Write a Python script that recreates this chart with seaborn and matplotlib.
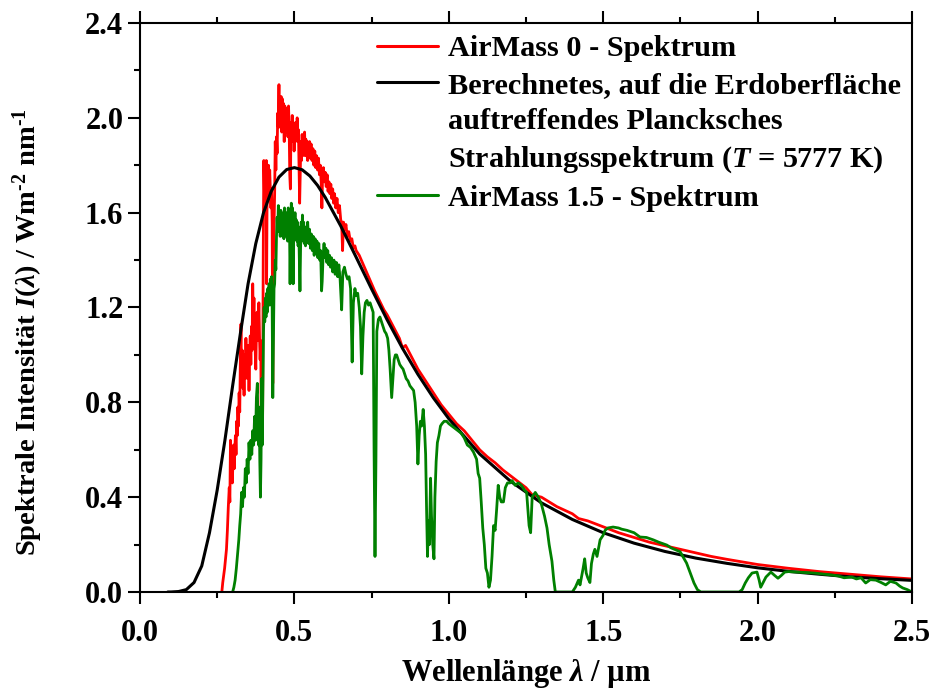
import numpy as np
import pandas as pd
import matplotlib
matplotlib.use('Agg')
import matplotlib.pyplot as plt
from matplotlib.lines import Line2D
from matplotlib.ticker import MultipleLocator, FormatStrFormatter
import seaborn as sns

# AirMass 0 (red)
am0_wl = [0.265, 0.268, 0.271, 0.274, 0.277, 0.280, 0.283, 0.286, 0.289, 0.291, 0.293, 0.295, 0.297,
          0.299, 0.301, 0.303, 0.305, 0.307, 0.309, 0.311, 0.313, 0.315, 0.317, 0.319, 0.321, 0.323,
          0.325, 0.327, 0.329, 0.331, 0.333, 0.335, 0.337, 0.339, 0.341, 0.343, 0.345, 0.347, 0.349,
          0.351, 0.353, 0.355, 0.357, 0.359, 0.361, 0.363, 0.365, 0.367, 0.369, 0.371, 0.373, 0.375,
          0.377, 0.379, 0.381, 0.383, 0.385, 0.387, 0.389, 0.391, 0.393, 0.395, 0.397, 0.399, 0.401,
          0.403, 0.405, 0.407, 0.409, 0.410, 0.412, 0.414, 0.416, 0.418, 0.420, 0.422, 0.424, 0.426,
          0.428, 0.430, 0.432, 0.434, 0.436, 0.438, 0.440, 0.442, 0.444, 0.446, 0.448, 0.450, 0.451,
          0.453, 0.455, 0.457, 0.459, 0.461, 0.463, 0.465, 0.467, 0.469, 0.471, 0.473, 0.475, 0.477,
          0.479, 0.481, 0.483, 0.485, 0.487, 0.489, 0.491, 0.493, 0.495, 0.497, 0.499, 0.501, 0.503,
          0.505, 0.507, 0.509, 0.511, 0.513, 0.515, 0.517, 0.519, 0.521, 0.523, 0.525, 0.527, 0.529,
          0.531, 0.533, 0.535, 0.537, 0.539, 0.541, 0.543, 0.545, 0.547, 0.549, 0.551, 0.554, 0.557,
          0.560, 0.563, 0.566, 0.569, 0.572, 0.575, 0.578, 0.581, 0.584, 0.587, 0.589, 0.591, 0.594,
          0.597, 0.600, 0.603, 0.606, 0.609, 0.612, 0.615, 0.618, 0.621, 0.624, 0.627, 0.630, 0.634,
          0.638, 0.642, 0.646, 0.650, 0.653, 0.656, 0.659, 0.663, 0.667, 0.671, 0.676, 0.681, 0.686,
          0.691, 0.696, 0.70, 0.71, 0.72, 0.73, 0.74, 0.75, 0.76, 0.775, 0.79, 0.80, 0.82, 0.84, 0.85,
          0.86, 0.88, 0.90, 0.925, 0.95, 0.975, 1.0, 1.025, 1.05, 1.075, 1.1, 1.125, 1.15, 1.175, 1.2,
          1.25, 1.27, 1.3, 1.35, 1.4, 1.42, 1.45, 1.5, 1.55, 1.6, 1.65, 1.7, 1.75, 1.8, 1.85, 1.9,
          1.95, 2.0, 2.1, 2.2, 2.3, 2.4, 2.5]
am0_val = [0.0, 0.04, 0.07, 0.10, 0.14, 0.18, 0.26, 0.36, 0.44, 0.38, 0.64, 0.50, 0.58,
           0.46, 0.55, 0.62, 0.52, 0.60, 0.66, 0.58, 0.72, 0.66, 0.78, 0.70, 0.84, 0.76,
           0.98, 1.13, 0.90, 1.02, 0.86, 0.96, 0.83, 1.00, 0.90, 1.07, 0.94, 1.02, 0.90,
           1.04, 0.85, 1.00, 1.08, 0.96, 1.12, 1.02, 1.30, 1.14, 1.24, 1.10, 1.02, 0.94,
           1.10, 1.18, 1.06, 1.12, 1.22, 1.08, 0.98, 1.06, 0.62, 0.80, 0.70, 1.40, 1.82,
           1.68, 1.80, 1.74, 1.82, 1.30, 1.78, 1.70, 1.80, 1.66, 1.78, 1.70, 1.62, 1.70,
           1.56, 0.88, 1.40, 1.55, 1.68, 1.90, 1.78, 1.92, 1.85, 2.02, 1.96, 2.14, 1.98,
           2.06, 1.96, 2.09, 1.94, 2.08, 1.98, 2.06, 1.90, 2.05, 1.96, 2.03, 1.94, 2.04,
           1.92, 2.05, 1.96, 1.76, 1.70, 1.98, 1.92, 2.01, 1.90, 1.98, 1.86, 1.96, 1.90,
           1.98, 1.92, 2.00, 1.90, 1.95, 1.80, 1.64, 1.78, 1.90, 1.82, 1.93, 1.84, 1.92,
           1.85, 1.94, 1.84, 1.91, 1.86, 1.90, 1.82, 1.89, 1.84, 1.90, 1.83, 1.89, 1.82,
           1.87, 1.80, 1.86, 1.79, 1.84, 1.78, 1.83, 1.76, 1.80, 1.72, 1.62, 1.74, 1.79,
           1.73, 1.77, 1.71, 1.76, 1.69, 1.73, 1.68, 1.72, 1.66, 1.70, 1.64, 1.68, 1.62,
           1.66, 1.60, 1.63, 1.57, 1.56, 1.44, 1.56, 1.53, 1.55, 1.50, 1.52, 1.48, 1.49,
           1.45, 1.46, 1.44, 1.42, 1.39, 1.36, 1.33, 1.30, 1.27, 1.23, 1.19, 1.17, 1.12, 1.07, 1.03,
           1.04, 0.99, 0.94, 0.89, 0.84, 0.79, 0.75, 0.71, 0.68, 0.64, 0.60, 0.57, 0.545, 0.515, 0.49,
           0.44, 0.41, 0.40, 0.36, 0.33, 0.31, 0.30, 0.275, 0.25, 0.23, 0.21, 0.195, 0.18, 0.165, 0.15,
           0.138, 0.127, 0.116, 0.100, 0.086, 0.075, 0.064, 0.055]

# Planck spectrum T = 5777 K (black)
bb_wl = [0.09, 0.10, 0.125, 0.15, 0.175, 0.20, 0.225, 0.25, 0.275, 0.30, 0.325, 0.35, 0.375, 0.40,
         0.425, 0.45, 0.475, 0.50, 0.525, 0.55, 0.575, 0.60, 0.65, 0.70, 0.75, 0.80, 0.85, 0.90,
         0.95, 1.0, 1.1, 1.2, 1.3, 1.4, 1.5, 1.6, 1.7, 1.8, 1.9, 2.0, 2.1, 2.2, 2.3, 2.4, 2.5]
bb_val = [0.0, 0.0, 0.002, 0.010, 0.040, 0.110, 0.250, 0.430, 0.640, 0.870, 1.090, 1.300, 1.470, 1.600,
          1.690, 1.750, 1.782, 1.790, 1.781, 1.755, 1.715, 1.664, 1.544, 1.412, 1.278, 1.149, 1.028, 0.918,
          0.819, 0.731, 0.582, 0.467, 0.376, 0.306, 0.250, 0.206, 0.171, 0.143, 0.121, 0.102, 0.087,
          0.075, 0.064, 0.056, 0.049]

# AirMass 1.5 (green)
am15_wl = [0.300, 0.304, 0.308, 0.312, 0.316, 0.320, 0.323, 0.326, 0.329, 0.332, 0.335, 0.338, 0.341,
           0.344, 0.347, 0.350, 0.353, 0.356, 0.359, 0.362, 0.365, 0.368, 0.371, 0.374, 0.377, 0.380,
           0.382, 0.384, 0.386, 0.388, 0.390, 0.392, 0.394, 0.396, 0.398, 0.400, 0.402, 0.404, 0.406,
           0.408, 0.410, 0.412, 0.414, 0.416, 0.418, 0.420, 0.422, 0.424, 0.426, 0.428, 0.430, 0.432,
           0.434, 0.436, 0.438, 0.440, 0.442, 0.444, 0.446, 0.448, 0.450, 0.452, 0.454, 0.456, 0.458,
           0.460, 0.462, 0.464, 0.466, 0.468, 0.470, 0.472, 0.474, 0.476, 0.478, 0.480, 0.482, 0.484,
           0.486, 0.488, 0.490, 0.492, 0.494, 0.496, 0.498, 0.500, 0.502, 0.504, 0.506, 0.508, 0.510,
           0.512, 0.514, 0.516, 0.518, 0.520, 0.522, 0.524, 0.526, 0.528, 0.530, 0.532, 0.534, 0.536,
           0.538, 0.540, 0.543, 0.546, 0.549, 0.552, 0.555, 0.558, 0.561, 0.564, 0.567, 0.570, 0.573,
           0.576, 0.579, 0.582, 0.585, 0.588, 0.590, 0.593, 0.596, 0.599, 0.602, 0.605, 0.608, 0.611,
           0.614, 0.617, 0.620, 0.624, 0.628, 0.632, 0.636, 0.640, 0.644, 0.648, 0.653, 0.657, 0.662,
           0.667, 0.672, 0.677, 0.682, 0.687,
           0.691, 0.696, 0.70, 0.705, 0.71, 0.714, 0.718, 0.722, 0.726, 0.73, 0.735, 0.74, 0.745, 0.75,
           0.755, 0.758, 0.761, 0.764, 0.767, 0.772, 0.777, 0.782, 0.787, 0.792, 0.797, 0.802, 0.806,
           0.81, 0.815, 0.819, 0.823, 0.827, 0.831, 0.836, 0.841, 0.846, 0.852, 0.857, 0.862, 0.868,
           0.874, 0.88, 0.886, 0.891, 0.896, 0.90, 0.904, 0.908, 0.912, 0.917, 0.921, 0.925, 0.928,
           0.931, 0.934, 0.937, 0.941, 0.944, 0.948, 0.952, 0.955, 0.959, 0.963, 0.968, 0.973, 0.978,
           0.985, 0.993, 1.0, 1.01, 1.02, 1.03, 1.04, 1.05, 1.06, 1.07, 1.08, 1.09, 1.095, 1.10, 1.105,
           1.11, 1.115, 1.12, 1.125, 1.13, 1.135, 1.14, 1.145, 1.15, 1.155, 1.16, 1.165, 1.17, 1.177,
           1.183, 1.19, 1.198, 1.205, 1.215, 1.225, 1.235, 1.245, 1.252, 1.26, 1.265, 1.27, 1.28, 1.29,
           1.30, 1.31, 1.318, 1.325, 1.334, 1.34, 1.345, 1.40, 1.41, 1.42, 1.425, 1.435, 1.44, 1.445,
           1.45, 1.457, 1.462, 1.468, 1.473, 1.48, 1.49, 1.50, 1.506, 1.515, 1.532, 1.55, 1.56, 1.577,
           1.60, 1.619, 1.64, 1.662, 1.68, 1.706, 1.72, 1.749, 1.77, 1.785, 1.794, 1.805, 1.816, 1.94,
           1.95, 1.96, 1.97, 1.982, 1.998, 2.005, 2.01, 2.018, 2.027, 2.043, 2.055, 2.066, 2.077, 2.088,
           2.10, 2.127, 2.15, 2.182, 2.21, 2.238, 2.26, 2.28, 2.305, 2.32, 2.335, 2.35, 2.365, 2.383,
           2.40, 2.415, 2.43, 2.448, 2.46, 2.47, 2.485, 2.50]
am15_val = [0.0, 0.02, 0.05, 0.10, 0.16, 0.22, 0.28, 0.33, 0.42, 0.36, 0.44, 0.40, 0.52,
            0.46, 0.56, 0.50, 0.63, 0.56, 0.64, 0.58, 0.68, 0.62, 0.74, 0.64, 0.82, 0.88,
            0.70, 0.62, 0.78, 0.55, 0.40, 0.56, 0.90, 0.62, 0.88, 1.10, 1.20, 1.14, 1.24,
            1.16, 1.26, 1.18, 1.28, 1.22, 1.30, 1.21, 1.32, 1.25, 1.33, 1.20, 0.82, 1.05,
            1.28, 1.30, 1.40, 1.36, 1.50, 1.58, 1.52, 1.63, 1.55, 1.60, 1.50, 1.61, 1.53,
            1.59, 1.50, 1.60, 1.49, 1.62, 1.52, 1.58, 1.50, 1.60, 1.48, 1.62, 1.52, 1.56,
            1.30, 1.52, 1.64, 1.55, 1.62, 1.30, 1.58, 1.52, 1.60, 1.50, 1.57, 1.48, 1.56,
            1.46, 1.54, 1.40, 1.27, 1.45, 1.56, 1.48, 1.59, 1.49, 1.56, 1.47, 1.54, 1.46,
            1.53, 1.50, 1.56, 1.47, 1.53, 1.45, 1.51, 1.44, 1.50, 1.42, 1.49, 1.43, 1.48,
            1.41, 1.47, 1.40, 1.44, 1.27, 1.31, 1.42, 1.47, 1.41, 1.45, 1.39, 1.44, 1.38,
            1.42, 1.37, 1.41, 1.35, 1.40, 1.34, 1.39, 1.33, 1.38, 1.32, 1.19, 1.35, 1.37,
            1.34, 1.32, 1.33, 1.28, 0.97,
            1.22, 1.28, 1.25, 1.26, 1.20, 1.12, 0.92, 1.08, 1.18, 1.22, 1.23, 1.21, 1.22, 1.20,
            1.18, 0.60, 0.15, 0.55, 1.10, 1.15, 1.16, 1.14, 1.12, 1.10, 1.09, 1.07, 1.02,
            0.94, 0.82, 0.90, 0.98, 1.00, 1.00, 0.98, 0.96, 0.95, 0.94, 0.92, 0.90, 0.89,
            0.87, 0.86, 0.85, 0.80, 0.70, 0.54, 0.66, 0.72, 0.70, 0.77, 0.70, 0.58, 0.35,
            0.15, 0.30, 0.20, 0.48, 0.32, 0.20, 0.14, 0.40, 0.55, 0.63, 0.66, 0.70, 0.71,
            0.72, 0.72, 0.71, 0.70, 0.69, 0.68, 0.67, 0.65, 0.62, 0.61, 0.59, 0.56, 0.50, 0.48, 0.38,
            0.27, 0.20, 0.10, 0.08, 0.02, 0.05, 0.15, 0.28, 0.26, 0.35, 0.45, 0.40, 0.38, 0.38,
            0.44, 0.46, 0.46, 0.47, 0.45, 0.46, 0.45, 0.43, 0.42, 0.28, 0.25, 0.40, 0.42, 0.40,
            0.37, 0.32, 0.27, 0.20, 0.13, 0.05, 0.0, 0.0, 0.02, 0.05, 0.03, 0.10, 0.14, 0.08,
            0.06, 0.04, 0.12, 0.16, 0.18, 0.15, 0.22, 0.24, 0.26, 0.27, 0.274, 0.27, 0.265, 0.26,
            0.25, 0.232, 0.23, 0.22, 0.21, 0.198, 0.186, 0.17, 0.122, 0.07, 0.038, 0.01, 0.0, 0.0,
            0.01, 0.038, 0.06, 0.08, 0.084, 0.05, 0.02, 0.04, 0.063, 0.084, 0.07, 0.058, 0.07, 0.084,
            0.086, 0.084, 0.082, 0.08, 0.076, 0.072, 0.068, 0.06, 0.063, 0.055, 0.06, 0.038, 0.052, 0.05,
            0.04, 0.03, 0.045, 0.038, 0.025, 0.017, 0.01, 0.0]

legend_labels = ['AirMass 0 - Spektrum',
                 'Berechnetes, auf die Erdoberfläche',
                 'auftreffendes Plancksches',
                 'Strahlungsspektrum ($T$ = 5777 K)',
                 'AirMass 1.5 - Spektrum']

sns.set_theme(style='ticks')
plt.rcParams['font.family'] = ['Liberation Serif', 'DejaVu Serif']
plt.rcParams['font.weight'] = 'bold'
plt.rcParams['axes.labelweight'] = 'bold'
plt.rcParams['text.color'] = 'black'
plt.rcParams['axes.labelcolor'] = 'black'
plt.rcParams['xtick.color'] = 'black'
plt.rcParams['ytick.color'] = 'black'
plt.rcParams['mathtext.fontset'] = 'custom'
plt.rcParams['mathtext.rm'] = 'Liberation Serif:bold'
plt.rcParams['mathtext.it'] = 'Liberation Serif:italic:bold'
plt.rcParams['mathtext.bf'] = 'Liberation Serif:bold'

am0 = pd.DataFrame({'wl': am0_wl, 'val': am0_val})
bb = pd.DataFrame({'wl': bb_wl, 'val': bb_val})
am15 = pd.DataFrame({'wl': am15_wl, 'val': am15_val})

fig = plt.figure(figsize=(9.3, 6.89), dpi=100)
ax = fig.add_axes([140 / 930, 1 - 592 / 689, 772 / 930, 569 / 689])

sns.lineplot(data=am0, x='wl', y='val', ax=ax, color='#ff0000', lw=2.0, estimator=None, sort=False)
sns.lineplot(data=bb, x='wl', y='val', ax=ax, color='black', lw=2.2, estimator=None, sort=False)
sns.lineplot(data=am15, x='wl', y='val', ax=ax, color='#008000', lw=2.0, estimator=None, sort=False)

ax.set_xlim(0, 2.5)
ax.set_ylim(0, 2.4)
ax.xaxis.set_major_locator(MultipleLocator(0.5))
ax.xaxis.set_minor_locator(MultipleLocator(0.25))
ax.yaxis.set_major_locator(MultipleLocator(0.4))
ax.yaxis.set_minor_locator(MultipleLocator(0.2))
ax.xaxis.set_major_formatter(FormatStrFormatter('%.1f'))
ax.yaxis.set_major_formatter(FormatStrFormatter('%.1f'))

ax.tick_params(which='major', direction='out', length=8.5, width=1.5, labelsize=22, color='black')
ax.tick_params(which='minor', direction='out', length=4.3, width=1.5, color='black')
ax.tick_params(axis='x', which='both', top=True, labeltop=False, bottom=True)
ax.tick_params(axis='x', which='major', pad=11)
ax.tick_params(axis='y', which='both', right=False, left=True)
ax.tick_params(axis='y', which='major', pad=3.5)
for sp in ax.spines.values():
    sp.set_linewidth(1.5)
    sp.set_color('black')
    sp.set_visible(True)

ax.set_xlabel('Wellenlänge $\\lambda$ / µm', fontsize=22)
ax.set_ylabel('Spektrale Intensität $I$($\\lambda$) / Wm$^{\u20102}$ nm$^{\u20101}$', fontsize=20.5)
ax.xaxis.set_label_coords(0.5, -0.114)
ax.yaxis.set_label_coords(-0.123, 0.457)

handles = [Line2D([], [], color='#ff0000', lw=2.2),
           Line2D([], [], color='black', lw=2.2),
           Line2D([], [], color='none'),
           Line2D([], [], color='none'),
           Line2D([], [], color='#008000', lw=2.2)]
ax.legend(handles, legend_labels, loc='upper left', bbox_to_anchor=(0.307, 0.979), frameon=False,
          fontsize=21.8, handlelength=2.0, handletextpad=0.33, labelspacing=0.31,
          borderaxespad=0, borderpad=0)

fig.savefig('out.png', dpi=100)
